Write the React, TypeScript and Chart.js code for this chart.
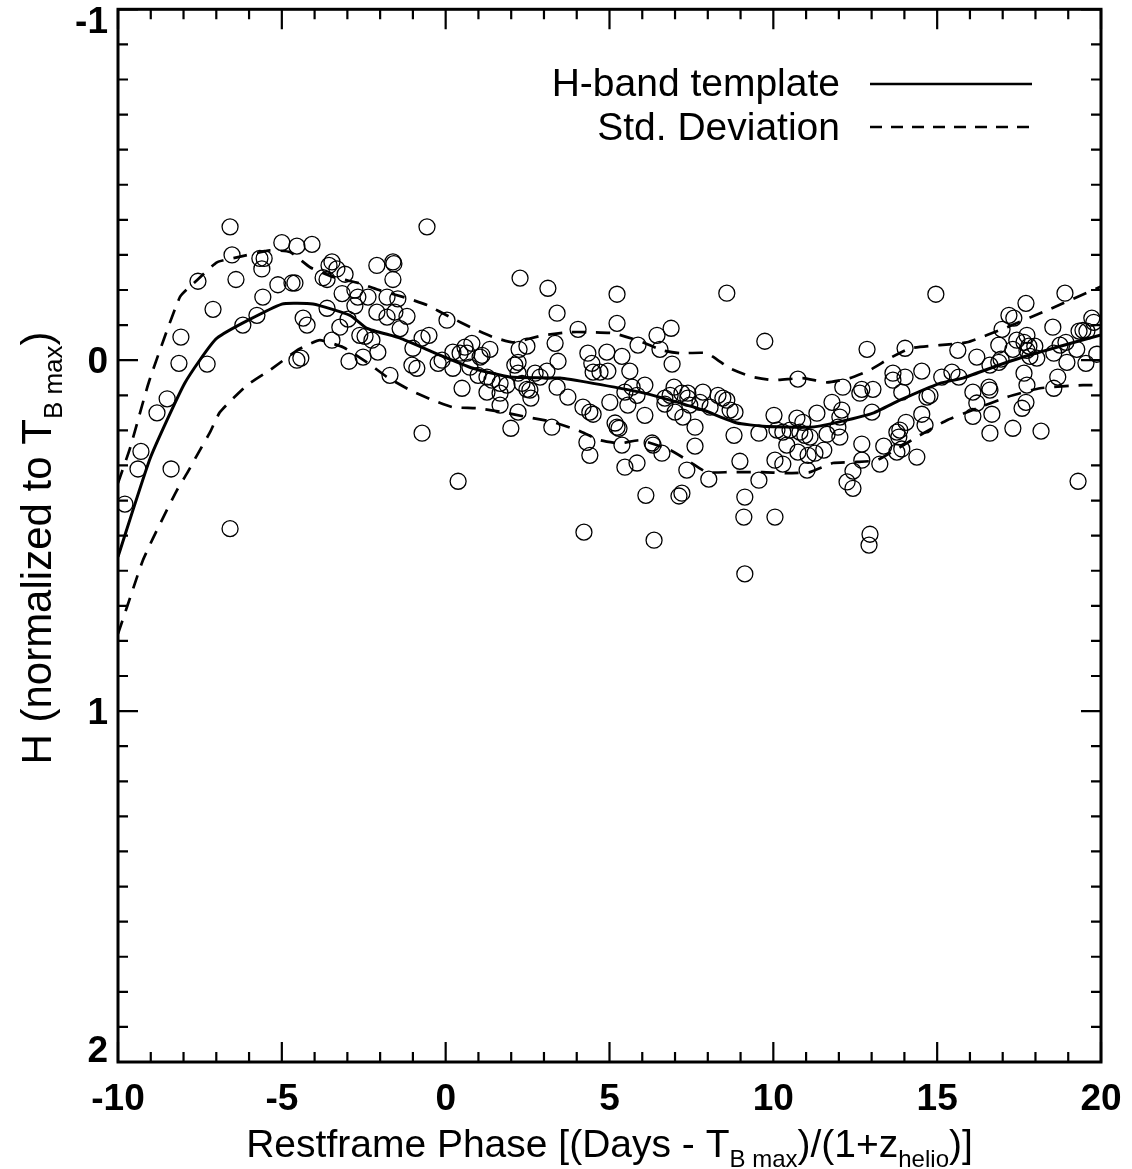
import React, { useEffect, useRef } from 'react';
import { Chart, registerables } from 'chart.js';

Chart.register(...registerables);

// ---------- data ----------
const xTickValues = [-10, -5, 0, 5, 10, 15, 20];
const yTickValues = [-1, 0, 1, 2];

const xTitleParts: [string, boolean][] = [
  ['Restframe Phase [(Days - T', false],
  ['B max', true],
  [')/(1+z', false],
  ['helio', true],
  [')]', false],
];
const yTitleParts: [string, boolean][] = [
  ['H (normalized to T', false],
  ['B max', true],
  [')', false],
];
const legendLabels = ['H-band template', 'Std. Deviation'];

// template curve [phase, mag]
const templateCurve: [number, number][] = [
  [-10, 0.56], [-9.02, 0.28], [-7.96, 0.065], [-6.98, -0.063], [-5.0, -0.16], [-4.05, -0.16],
  [-2.92, -0.128], [-2.4, -0.091], [-1.39, -0.063], [-0.39, -0.023], [0.83, 0.023], [1.96, 0.048],
  [3.49, 0.051], [4.5, 0.066], [5.93, 0.091], [6.63, 0.108], [7.85, 0.142], [8.89, 0.179],
  [9.68, 0.188], [11.12, 0.191], [11.82, 0.18], [13.04, 0.151], [13.86, 0.114], [15.08, 0.066],
  [15.79, 0.051], [16.7, 0.02], [17.62, -0.009], [18.65, -0.037], [20.0, -0.072],
];

const upperStd: [number, number][] = [
  [-10, 0.35], [-9.63, 0.25], [-9.05, 0.06], [-8.11, -0.18], [-7.59, -0.228], [-6.98, -0.279],
  [-6.37, -0.293], [-5.36, -0.313], [-4.75, -0.308], [-4.14, -0.265], [-3.44, -0.237], [-2.62, -0.219],
  [-2.0, -0.199], [-1.18, -0.177], [-0.57, -0.157], [0.13, -0.123], [0.83, -0.091], [1.44, -0.066],
  [2.05, -0.051], [2.97, -0.071], [3.79, -0.08], [4.31, -0.08], [5.11, -0.077], [5.84, -0.057],
  [6.63, -0.028], [7.15, -0.02], [7.97, -0.02], [8.67, 0.023], [9.29, 0.046], [9.99, 0.057],
  [10.9, 0.051], [11.64, 0.063], [12.34, 0.051], [12.95, 0.028], [13.56, -0.006], [14.17, -0.034],
  [15.08, -0.043], [15.91, -0.051], [17.13, -0.094], [18.35, -0.142], [20.0, -0.21],
];

const lowerStd: [number, number][] = [
  [-10, 0.78], [-9.42, 0.618], [-9.24, 0.57], [-8.93, 0.507], [-8.63, 0.45], [-8.2, 0.37],
  [-7.89, 0.322], [-7.59, 0.271], [-7.19, 0.205], [-6.89, 0.148], [-6.06, 0.071], [-5.36, 0.028],
  [-4.54, -0.028], [-4.23, -0.043], [-3.84, -0.057], [-3.13, -0.037], [-2.4, 0.006], [-1.79, 0.048],
  [-1.09, 0.085], [-0.39, 0.114], [0.22, 0.134], [0.96, 0.137], [1.75, 0.148], [2.48, 0.162],
  [3.27, 0.176], [4.01, 0.199], [4.71, 0.228], [5.32, 0.237], [5.93, 0.228], [6.85, 0.256],
  [7.46, 0.29], [7.97, 0.319], [8.68, 0.319], [9.68, 0.319], [10.41, 0.322], [11.12, 0.319],
  [11.82, 0.293], [12.55, 0.29], [13.16, 0.285], [13.86, 0.248], [14.47, 0.214], [15.3, 0.171],
  [16.09, 0.142], [17.13, 0.105], [18.14, 0.08], [19.45, 0.071], [20.0, 0.071],
];

// observations [phase, mag]
const obsRise: [number, number][] = [
  [-9.79, 0.41], [-9.3, 0.26], [-9.39, 0.31], [-8.5, 0.11], [-8.81, 0.15], [-8.38, 0.31], [-6.58, 0.48],
  [-6.58, -0.38], [-6.52, -0.3], [-7.56, -0.225], [-6.4, -0.23], [-7.1, -0.145], [-8.08, -0.066],
  [-8.14, 0.009], [-7.28, 0.011], [-6.19, -0.1], [-5.76, -0.128], [-5.58, -0.18], [-5.12, -0.215],
  [-4.69, -0.22], [-4.6, -0.22], [-5.61, -0.26], [-5.67, -0.29], [-5.54, -0.29], [-5.0, -0.335],
  [-4.54, -0.325], [-4.35, -0.12], [-4.23, -0.1], [-4.54, 0.0], [-4.42, -0.006],
];
const obsPeak: [number, number][] = [
  [-0.57, -0.38], [-4.08, -0.33], [-3.47, -0.28], [-3.56, -0.27], [-3.32, -0.26], [-3.07, -0.245],
  [-3.74, -0.235], [-3.62, -0.23], [-2.1, -0.27], [-1.61, -0.28], [-1.58, -0.275], [-1.61, -0.23],
  [-3.16, -0.19], [-2.77, -0.2], [-2.68, -0.18], [-2.77, -0.155], [-2.37, -0.18], [-1.79, -0.18],
  [-1.46, -0.175], [-2.1, -0.137], [-1.79, -0.123], [-1.55, -0.137], [-1.18, -0.125], [-1.39, -0.09],
  [-3.62, -0.148], [-2.98, -0.117], [-3.23, -0.094], [-3.47, -0.057], [-2.62, -0.071], [-2.46, -0.068],
  [-2.25, -0.057], [-2.07, -0.023], [-2.52, -0.009], [-2.95, 0.003], [-1.7, 0.043], [-1.0, -0.034],
  [-0.72, -0.063], [-0.51, -0.071], [-1.03, 0.014], [-0.88, 0.023], [0.04, -0.114], [-0.23, 0.009],
  [-0.11, 0.0], [0.22, -0.023], [0.44, -0.02], [0.59, -0.037], [0.8, -0.048], [0.65, -0.02],
  [1.05, -0.009], [0.22, 0.023], [0.74, 0.02], [0.99, 0.043], [0.5, 0.08], [-0.72, 0.208], [0.38, 0.345],
];
const obsDecline: [number, number][] = [
  [2.27, -0.234], [3.12, -0.205], [5.23, -0.188], [3.4, -0.134], [5.23, -0.105], [4.04, -0.088],
  [1.35, -0.031], [1.11, -0.014], [2.48, -0.04], [2.24, -0.031], [2.21, 0.006], [2.11, 0.014],
  [2.21, 0.037], [3.34, -0.048], [3.43, 0.003], [4.34, -0.02], [4.92, -0.023], [5.38, -0.011],
  [4.46, 0.009], [4.5, 0.034], [4.71, 0.034], [4.95, 0.031], [5.62, 0.031], [5.87, -0.043],
  [2.73, 0.037], [2.88, 0.048], [3.09, 0.031], [1.26, 0.048], [1.41, 0.057], [1.66, 0.066],
  [1.87, 0.071], [1.26, 0.091], [1.66, 0.094], [2.33, 0.066], [2.48, 0.083], [2.6, 0.108],
  [2.57, 0.085], [3.4, 0.077], [3.73, 0.105], [1.66, 0.128], [2.21, 0.148], [1.99, 0.194],
  [3.24, 0.191], [4.19, 0.134], [4.4, 0.148], [4.5, 0.154], [5.01, 0.12], [5.47, 0.091],
  [5.56, 0.128], [5.69, 0.077], [5.84, 0.1], [5.17, 0.179], [5.23, 0.191], [5.29, 0.194],
  [4.31, 0.234], [4.4, 0.271], [5.38, 0.242], [5.47, 0.305], [5.84, 0.293], [4.22, 0.49],
];
const obsTrough: [number, number][] = [
  [8.58, -0.191], [9.74, -0.054], [6.45, -0.071], [6.88, -0.091], [6.54, -0.031], [6.91, 0.011],
  [6.08, 0.071], [6.97, 0.077], [6.85, 0.1], [6.69, 0.108], [6.69, 0.125], [7.21, 0.094],
  [7.39, 0.094], [7.45, 0.128], [7.39, 0.108], [7.0, 0.148], [7.24, 0.162], [7.76, 0.12],
  [7.85, 0.091], [8.07, 0.134], [8.31, 0.1], [8.46, 0.108], [8.58, 0.114], [8.68, 0.142],
  [8.83, 0.148], [6.08, 0.157], [7.61, 0.191], [8.8, 0.214], [9.56, 0.208], [10.02, 0.157],
  [10.11, 0.199], [10.29, 0.205], [10.51, 0.199], [10.72, 0.165], [10.81, 0.205], [10.9, 0.177],
  [10.96, 0.214], [11.12, 0.219], [10.41, 0.242], [10.75, 0.262], [11.06, 0.271], [6.3, 0.236],
  [6.33, 0.242], [6.6, 0.265], [7.61, 0.245], [7.36, 0.313], [8.03, 0.339], [8.98, 0.288],
  [9.56, 0.342], [10.05, 0.285], [10.29, 0.296], [11.03, 0.313], [6.11, 0.385], [7.12, 0.387],
  [7.21, 0.379], [9.13, 0.39], [9.1, 0.447], [10.05, 0.447], [6.36, 0.513], [9.13, 0.609],
];
const obsRecovery: [number, number][] = [
  [14.96, -0.188], [12.86, -0.031], [14.02, -0.034], [13.65, 0.037], [13.65, 0.057], [14.02, 0.048],
  [14.53, 0.031], [15.14, 0.048], [15.45, 0.034], [12.12, 0.077], [12.7, 0.083], [12.64, 0.094],
  [13.04, 0.083], [13.92, 0.091], [14.69, 0.105], [14.78, 0.1], [10.75, 0.054], [11.79, 0.12],
  [11.33, 0.151], [12.09, 0.142], [12.03, 0.162], [13.01, 0.148], [14.53, 0.154], [14.63, 0.185],
  [14.05, 0.177], [11.97, 0.191], [11.64, 0.211], [12.03, 0.219], [13.86, 0.199], [13.83, 0.219],
  [13.77, 0.205], [11.27, 0.265], [11.54, 0.256], [12.7, 0.239], [13.37, 0.245], [13.77, 0.262],
  [13.92, 0.253], [14.38, 0.276], [12.7, 0.285], [13.25, 0.296], [12.43, 0.316], [12.25, 0.347],
  [12.43, 0.365], [12.95, 0.496], [12.92, 0.527],
];
const obsLate: [number, number][] = [
  [18.9, -0.191], [17.71, -0.162], [17.19, -0.128], [17.34, -0.12], [16.98, -0.088], [18.53, -0.094],
  [19.72, -0.12], [19.78, -0.108], [19.45, -0.085], [19.33, -0.083], [19.57, -0.083], [17.74, -0.071],
  [17.43, -0.057], [17.65, -0.051], [16.88, -0.043], [17.8, -0.04], [17.98, -0.04], [17.31, -0.031],
  [17.74, -0.028], [15.63, -0.028], [18.75, -0.043], [18.93, -0.051], [18.56, -0.02], [19.26, -0.031],
  [19.87, -0.017], [16.21, -0.009], [16.61, 0.014], [16.88, 0.006], [16.95, -0.003], [18.04, -0.006],
  [17.83, -0.011], [18.96, 0.006], [19.54, 0.009], [15.66, 0.048], [17.65, 0.037], [17.74, 0.071],
  [18.68, 0.048], [18.56, 0.08], [16.09, 0.091], [16.58, 0.077], [16.61, 0.085], [16.21, 0.122],
  [16.09, 0.16], [16.67, 0.154], [17.71, 0.12], [17.59, 0.137], [16.61, 0.208], [17.31, 0.194],
  [18.17, 0.202], [19.3, 0.345],
];

// ---------- helpers ----------
const FONT = '"Liberation Sans", Arial, Helvetica, sans-serif';
const toXY = (arr: [number, number][]) => arr.map(([x, y]) => ({ x, y }));

function drawRich(ctx: CanvasRenderingContext2D, parts: [string, boolean][], cx: number, y: number, size: number) {
  const mainFont = `${size}px ${FONT}`;
  const subFont = `${Math.round(size * 0.62)}px ${FONT}`;
  let total = 0;
  for (const [t, s] of parts) {
    ctx.font = s ? subFont : mainFont;
    total += ctx.measureText(t).width;
  }
  let x = cx - total / 2;
  ctx.textAlign = 'left';
  ctx.textBaseline = 'alphabetic';
  for (const [t, s] of parts) {
    ctx.font = s ? subFont : mainFont;
    ctx.fillText(t, x, s ? y + size * 0.25 : y);
    x += ctx.measureText(t).width;
  }
}

const idlPlugin = {
  id: 'idlFrame',
  afterDraw(chart: any) {
    const { ctx, chartArea: a, scales } = chart;
    const xs = scales.x;
    const ys = scales.y;
    ctx.save();
    ctx.strokeStyle = '#000';
    ctx.fillStyle = '#000';
    ctx.lineCap = 'butt';
    ctx.lineWidth = 2.2;
    ctx.beginPath();
    for (let v = xs.min; v <= xs.max + 1e-9; v += 1) {
      const px = xs.getPixelForValue(v);
      const len = Math.abs(v % 5) < 1e-9 ? 20 : 10;
      ctx.moveTo(px, a.bottom);
      ctx.lineTo(px, a.bottom - len);
      ctx.moveTo(px, a.top);
      ctx.lineTo(px, a.top + len);
    }
    const nY = Math.round((ys.max - ys.min) / 0.1);
    for (let k = 0; k <= nY; k++) {
      const v = ys.min + k * 0.1;
      const py = ys.getPixelForValue(v);
      const len = k % 10 === 0 ? 20 : 10;
      ctx.moveTo(a.left, py);
      ctx.lineTo(a.left + len, py);
      ctx.moveTo(a.right, py);
      ctx.lineTo(a.right - len, py);
    }
    ctx.stroke();
    ctx.lineWidth = 3;
    ctx.strokeRect(a.left, a.top, a.right - a.left, a.bottom - a.top);

    // tick labels
    ctx.font = `bold 37px ${FONT}`;
    ctx.textBaseline = 'alphabetic';
    ctx.textAlign = 'center';
    for (const v of xTickValues) {
      ctx.fillText(String(v), xs.getPixelForValue(v), a.bottom + 48);
    }
    ctx.textAlign = 'right';
    for (const v of yTickValues) {
      const py = ys.getPixelForValue(v);
      const base = Math.min(Math.max(py + 13, a.top + 24), a.bottom);
      ctx.fillText(String(v), a.left - 10, base);
    }

    // axis titles
    drawRich(ctx, xTitleParts, (a.left + a.right) / 2, 1157, 39);
    ctx.save();
    ctx.translate(51, 548);
    ctx.rotate(-Math.PI / 2);
    drawRich(ctx, yTitleParts, 0, 0, 42);
    ctx.restore();

    // legend
    ctx.font = `39px ${FONT}`;
    ctx.textAlign = 'right';
    ctx.fillText(legendLabels[0], 840, 96);
    ctx.fillText(legendLabels[1], 840, 140);
    ctx.lineWidth = 2.6;
    ctx.beginPath();
    ctx.moveTo(870, 84);
    ctx.lineTo(1032, 84);
    ctx.stroke();
    ctx.setLineDash([12, 9]);
    ctx.beginPath();
    ctx.moveTo(870, 127);
    ctx.lineTo(1032, 127);
    ctx.stroke();
    ctx.restore();
  },
};

export default function App() {
  const ref = useRef<HTMLCanvasElement | null>(null);
  useEffect(() => {
    if (!ref.current) return;
    const obs = [...obsRise, ...obsPeak, ...obsDecline, ...obsTrough, ...obsRecovery, ...obsLate];
    const chart = new Chart(ref.current, {
      type: 'scatter',
      data: {
        datasets: [
          {
            label: 'Observations',
            data: toXY(obs),
            pointRadius: 8,
            pointStyle: 'circle',
            borderColor: '#000',
            backgroundColor: 'rgba(0,0,0,0)',
            borderWidth: 1.3,
          } as any,
          {
            type: 'line',
            label: legendLabels[0],
            data: toXY(templateCurve),
            borderColor: '#000',
            borderWidth: 3,
            pointRadius: 0,
            fill: false,
            tension: 0.15,
          } as any,
          {
            type: 'line',
            label: legendLabels[1],
            data: toXY(upperStd),
            borderColor: '#000',
            borderWidth: 2.7,
            borderDash: [14, 10],
            pointRadius: 0,
            fill: false,
            tension: 0.15,
          } as any,
          {
            type: 'line',
            label: legendLabels[1] + ' (lower)',
            data: toXY(lowerStd),
            borderColor: '#000',
            borderWidth: 2.7,
            borderDash: [14, 10],
            pointRadius: 0,
            fill: false,
            tension: 0.15,
          } as any,
        ],
      },
      options: {
        animation: false,
        responsive: false,
        events: [],
        layout: { padding: { top: 9, right: 31, left: 0, bottom: 0 } },
        plugins: { legend: { display: false }, tooltip: { enabled: false } },
        scales: {
          x: {
            type: 'linear',
            min: -10,
            max: 20,
            ticks: { display: false, stepSize: 5 },
            grid: { display: false },
            border: { display: false },
            afterFit: (s: any) => { s.height = 107; },
          },
          y: {
            type: 'linear',
            min: -1,
            max: 2,
            reverse: true,
            ticks: { display: false, stepSize: 1 },
            grid: { display: false },
            border: { display: false },
            afterFit: (s: any) => { s.width = 118; },
          },
        },
      } as any,
      plugins: [idlPlugin],
    });
    return () => chart.destroy();
  }, []);
  return (
    <div style={{ position: 'absolute', left: 0, top: 0, width: 1132, height: 1169, background: '#fff' }}>
      <canvas ref={ref} width={1132} height={1169} style={{ display: 'block' }} />
    </div>
  );
}
